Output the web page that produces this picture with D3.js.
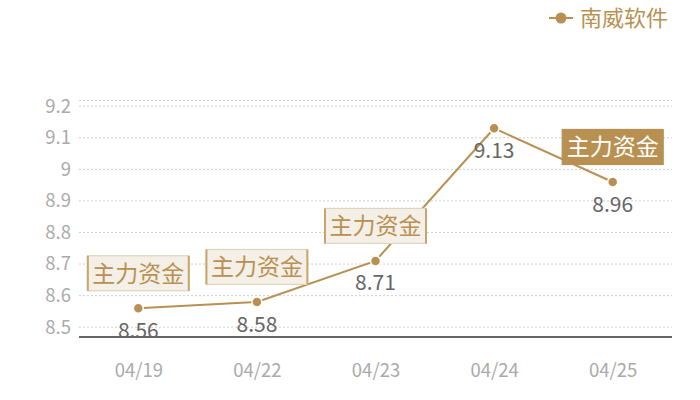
<!DOCTYPE html>
<html>
<head>
<meta charset="utf-8">
<script src="https://cdn.jsdelivr.net/npm/d3@7"></script>
<style>
  body { margin: 0; background: #fff; }
  svg { font-family: "Noto Sans CJK SC", "Noto Sans", sans-serif; }
</style>
</head>
<body>
<svg id="chart" width="700" height="400"></svg>
<script>
// chart data
const seriesName = '南威软件';
const dates = ['04/19', '04/22', '04/23', '04/24', '04/25'];
const prices = [8.56, 8.58, 8.71, 9.13, 8.96];
const yTicks = [8.5, 8.6, 8.7, 8.8, 8.9, 9.0, 9.1, 9.2];
const yTickLabels = ['8.5', '8.6', '8.7', '8.8', '8.9', '9', '9.1', '9.2'];
const flagDates = ['04/19', '04/22', '04/23', '04/25'];
const flagText = '主力资金';
const flagHighlight = '04/25';

const gold = '#b89152';
const svg = d3.select('#chart');
const plotLeft = 79, plotRight = 672, plotTop = 100.5, plotBottom = 337;

const x = d3.scalePoint().domain(dates).range([plotLeft, plotRight]).padding(0.5);
const y = d3.scaleLinear().domain([8.469, 9.218]).range([plotBottom, plotTop]);

// dotted grid lines
const grid = svg.append('g');
grid.selectAll('line')
  .data(yTicks.concat([y.domain()[1]]))
  .enter().append('line')
  .attr('x1', plotLeft).attr('x2', plotRight)
  .attr('y1', d => y(d)).attr('y2', d => y(d))
  .attr('stroke', '#cfcfcf')
  .attr('stroke-dasharray', '2,2');

// y axis labels
const yAxis = svg.append('g')
  .attr('transform', `translate(${plotLeft - 8},0)`)
  .call(d3.axisLeft(y).tickValues(yTicks).tickSize(0).tickPadding(0)
    .tickFormat((d, i) => yTickLabels[i]));
yAxis.select('.domain').remove();
yAxis.selectAll('text')
  .attr('fill', '#aaa')
  .style('font-size', '18.5px')
  .style('font-family', '"Noto Sans CJK SC", sans-serif');

// x axis
const xAxis = svg.append('g')
  .attr('transform', `translate(0,${plotBottom})`)
  .call(d3.axisBottom(x).tickSize(0).tickPadding(27));
xAxis.select('.domain')
  .attr('d', `M${plotLeft},0H${plotRight}`)
  .attr('stroke', '#333')
  .attr('stroke-width', 1.4);
xAxis.selectAll('text')
  .attr('fill', '#aaa')
  .style('font-size', '18.5px')
  .style('font-family', '"Noto Sans CJK SC", sans-serif');

// line
const line = d3.line()
  .x((d, i) => x(dates[i]))
  .y(d => y(d));
svg.append('path')
  .datum(prices)
  .attr('d', line)
  .attr('fill', 'none')
  .attr('stroke', gold)
  .attr('stroke-width', 2);

// dots
svg.append('g').selectAll('circle')
  .data(prices)
  .enter().append('circle')
  .attr('cx', (d, i) => x(dates[i]))
  .attr('cy', d => y(d))
  .attr('r', 5)
  .attr('fill', gold)
  .attr('stroke', '#fff')
  .attr('stroke-width', 1.5);

// flag boxes
const boxW = 101, boxH = 35;
const flags = svg.append('g').selectAll('g')
  .data(flagDates)
  .enter().append('g')
  .attr('transform', d => {
    const v = prices[dates.indexOf(d)];
    return `translate(${x(d)},${y(v) - 35})`;
  });
flags.append('rect')
  .attr('x', -boxW / 2).attr('y', -boxH / 2)
  .attr('width', boxW).attr('height', boxH)
  .attr('fill', d => d === flagHighlight ? gold : '#f4efe7')
  .attr('stroke', d => d === flagHighlight ? gold : '#e2d3bb')
  .attr('stroke-width', 1.2);
flags.filter(d => d !== flagHighlight).selectAll('line.side')
  .data([-boxW / 2, boxW / 2])
  .enter().append('line')
  .attr('class', 'side')
  .attr('x1', d => d).attr('x2', d => d)
  .attr('y1', -boxH / 2).attr('y2', boxH / 2)
  .attr('stroke', '#c7a46c')
  .attr('stroke-width', 2);
flags.append('text')
  .attr('text-anchor', 'middle')
  .attr('dy', '0.36em')
  .attr('fill', d => d === flagHighlight ? '#fff' : gold)
  .style('font-size', '23px')
  .text(flagText);

// value labels
svg.append('g').selectAll('text')
  .data(prices)
  .enter().append('text')
  .attr('x', (d, i) => x(dates[i]))
  .attr('y', d => y(d) + 22)
  .attr('dy', '0.36em')
  .attr('text-anchor', 'middle')
  .attr('fill', '#666')
  .style('font-size', '21px')
  .text(d => d.toFixed(2));

// legend
const legend = svg.append('g').attr('transform', 'translate(549,18)');
legend.append('line')
  .attr('x1', 0).attr('x2', 24)
  .attr('stroke', gold).attr('stroke-width', 2);
legend.append('circle')
  .attr('cx', 12).attr('r', 5.5)
  .attr('fill', gold);
legend.append('text')
  .attr('x', 31).attr('dy', '0.36em')
  .attr('fill', gold)
  .style('font-size', '22px')
  .text(seriesName);
</script>
</body>
</html>
